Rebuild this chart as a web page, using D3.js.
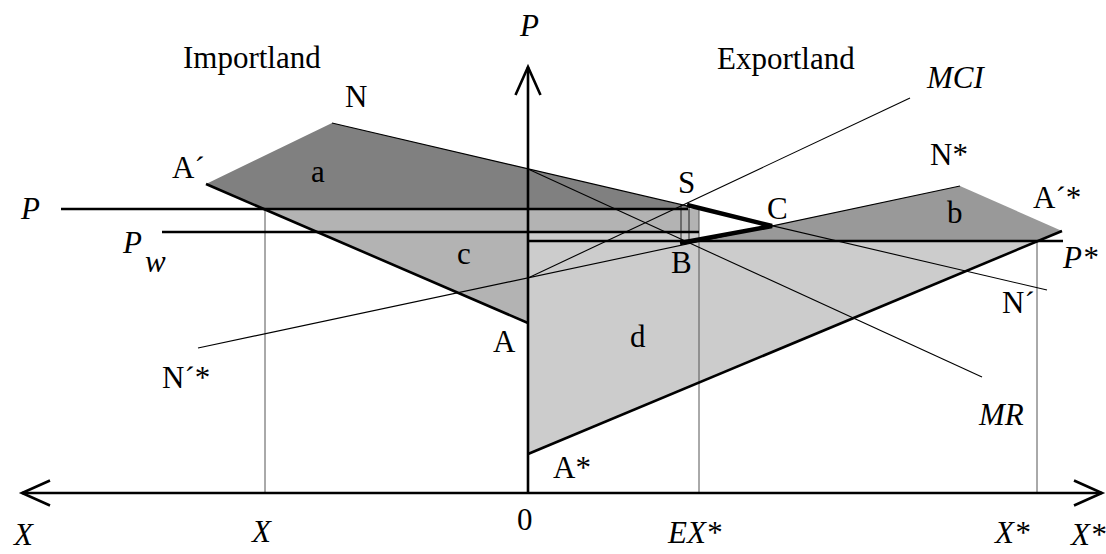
<!DOCTYPE html>
<html>
<head>
<meta charset="utf-8">
<script src="https://cdn.jsdelivr.net/npm/d3@7"></script>
<style>
  body { margin: 0; background: #fff; }
  text { font-family: "Liberation Serif", "Times New Roman", serif; font-size: 31px; fill: #000; }
</style>
</head>
<body>
<svg id="chart"></svg>
<script>
// quantities: negative = Importland (left), positive = Exportland (right)
var priceLevels = [28.4, 26.1, 25.2]            // P, Pw, P*
var priceStart = [-46.7, -36.6, 0]
var priceEnd = [16.0, 17.1, 53.5]
var quantityMarks = [-26.3, 17.1, 50.9]         // X, EX*, X*
var quantityTops = [28.4, 28.4, 25.2]

var supplyImport = [[-32.2, 30.9], [0, 17.0]]   // A' - A
var demandImport = [[-19.6, 37.0], [51.9, 20.3]] // N - N'
var marginalRevenue = [[0, 32.4], [45.4, 11.6]]  // MR
var marginalCost = [[0, 21.5], [38.2, 39.5]]     // MCI
var supplyExport = [[0, 3.9], [53.4, 26.2]]      // A* - A'*
var demandExport = [[-33.0, 14.5], [43.2, 30.7]] // N'* - N*

var pointS = [15.9, 28.8]
var pointC = [24.4, 26.7]
var pointB = [15.2, 25.0]
var sMarks = [15.3, 16.1]

var labels = [
    { t: "Importland", x: -34.5, y: 42.5 },
    { t: "Exportland", x: 18.9, y: 42.4 },
    { t: "P", x: -0.8, y: 45.7, i: true },
    { t: "N", x: -18.3, y: 38.6 },
    { t: "MCI", x: 39.9, y: 40.5, i: true },
    { t: "A\u00B4", x: -35.6, y: 31.5 },
    { t: "a", x: -21.7, y: 31.1 },
    { t: "N*", x: 40.2, y: 32.8 },
    { t: "S", x: 15.0, y: 30.0 },
    { t: "C", x: 23.9, y: 27.4 },
    { t: "b", x: 41.9, y: 27.0 },
    { t: "A\u00B4*", x: 50.5, y: 28.5 },
    { t: "P", x: -50.7, y: 27.4, i: true },
    { t: "P", x: -40.5, y: 24.0, i: true },
    { t: "w", x: -38.3, y: 22.1, i: true },
    { t: "c", x: -7.1, y: 22.9 },
    { t: "B", x: 14.3, y: 22.0 },
    { t: "P*", x: 53.5, y: 22.5, i: true },
    { t: "N\u00B4", x: 47.4, y: 18.0 },
    { t: "d", x: 10.2, y: 14.6 },
    { t: "A", x: -3.5, y: 14.1 },
    { t: "N\u00B4*", x: -36.6, y: 10.5 },
    { t: "MR", x: 45.1, y: 6.8, i: true },
    { t: "A*", x: 2.5, y: 1.5 },
    { t: "0", x: -1.1, y: -3.7 },
    { t: "X", x: -51.4, y: -5.2, i: true },
    { t: "X", x: -27.6, y: -4.9, i: true },
    { t: "EX*", x: 14.0, y: -5.0, i: true },
    { t: "X*", x: 46.7, y: -5.0, i: true },
    { t: "X*", x: 54.3, y: -5.2, i: true }
]

var dimensions = { width: 1106, height: 554 }

var svg = d3.select("#chart")
    .attr("width", dimensions.width)
    .attr("height", dimensions.height)

var xScale = d3.scaleLinear().domain([-50.6, 57.4]).range([22, 1102])
var yScale = d3.scaleLinear().domain([0, 42.6]).range([493, 67])

var line = d3.line().x(d => xScale(d[0])).y(d => yScale(d[1]))

// y of a straight line at x, and x of a straight line at y
function yAt(seg, x) {
    var k = (seg[1][1] - seg[0][1]) / (seg[1][0] - seg[0][0])
    return seg[0][1] + k * (x - seg[0][0])
}
function xAt(seg, y) {
    var k = (seg[1][0] - seg[0][0]) / (seg[1][1] - seg[0][1])
    return seg[0][0] + k * (y - seg[0][1])
}

var P = priceLevels[0], Pw = priceLevels[1], Ps = priceLevels[2]
var xOfP = xAt(supplyImport, P)
var xEx = quantityMarks[1]
var xPs = xAt(supplyExport, Ps)
var xB = xAt(demandExport, Ps)

var areas = [
    // a
    { fill: "#808080", pts: [supplyImport[0], demandImport[0], [priceEnd[0], yAt(demandImport, priceEnd[0])], [priceEnd[0], P], [xOfP, P]] },
    // c
    { fill: "#b3b3b3", pts: [[xOfP, P], [xEx, P], [xEx, Pw], [0, Pw], supplyImport[1]] },
    // d
    { fill: "#cccccc", pts: [[0, Pw], [xEx, Pw], [xEx, Ps], [xPs, Ps], supplyExport[0]] },
    // b
    { fill: "#999999", pts: [[xB, Ps], demandExport[1], supplyExport[1], [xPs, Ps]] }
]

svg.append("g").selectAll("path")
    .data(areas)
    .enter()
    .append("path")
    .attr("d", d => line(d.pts) + "Z")
    .attr("fill", d => d.fill)
    .attr("stroke", "none")

// thin guide lines for quantities
svg.append("g").selectAll("line")
    .data(quantityMarks)
    .enter()
    .append("line")
    .attr("x1", d => xScale(d))
    .attr("x2", d => xScale(d))
    .attr("y1", (d, i) => yScale(quantityTops[i]))
    .attr("y2", yScale(0))
    .attr("stroke", "#555")
    .attr("stroke-width", 1)

svg.append("g").selectAll("line")
    .data(sMarks)
    .enter()
    .append("line")
    .attr("x1", d => xScale(d))
    .attr("x2", d => xScale(d))
    .attr("y1", yScale(pointS[1]))
    .attr("y2", yScale(pointB[1]))
    .attr("stroke", "#222")
    .attr("stroke-width", 1)

// thin curves
var thin = [demandImport, marginalRevenue, marginalCost, demandExport]
svg.append("g").selectAll("path")
    .data(thin)
    .enter()
    .append("path")
    .attr("d", d => line(d))
    .attr("fill", "none")
    .attr("stroke", "#000")
    .attr("stroke-width", 1.1)

// price lines
svg.append("g").selectAll("line")
    .data(priceLevels)
    .enter()
    .append("line")
    .attr("x1", (d, i) => xScale(priceStart[i]))
    .attr("x2", (d, i) => xScale(priceEnd[i]))
    .attr("y1", d => yScale(d))
    .attr("y2", d => yScale(d))
    .attr("stroke", "#000")
    .attr("stroke-width", 2.6)

// supply curves
svg.append("g").selectAll("path")
    .data([supplyImport, supplyExport])
    .enter()
    .append("path")
    .attr("d", d => line(d))
    .attr("fill", "none")
    .attr("stroke", "#000")
    .attr("stroke-width", 2.6)

// S - C - B
svg.append("path")
    .attr("d", line([pointS, pointC, pointB]))
    .attr("fill", "none")
    .attr("stroke", "#000")
    .attr("stroke-width", 4.5)
    .attr("stroke-linejoin", "miter")

// axes with open arrow heads
var xMin = xScale.domain()[0], xMax = xScale.domain()[1], yMax = yScale.domain()[1]
var axisLines = [
    [[xMin, 0], [xMax, 0]],
    [[0, 0], [0, yMax]],
    [[xMin + 2.8, 1.25], [xMin, 0], [xMin + 2.8, -1.25]],
    [[xMax - 2.8, 1.25], [xMax, 0], [xMax - 2.8, -1.25]],
    [[-1.25, yMax - 2.8], [0, yMax], [1.25, yMax - 2.8]]
]
svg.append("g").selectAll("path")
    .data(axisLines)
    .enter()
    .append("path")
    .attr("d", d => line(d))
    .attr("fill", "none")
    .attr("stroke", "#000")
    .attr("stroke-width", 2.6)

svg.append("g").selectAll("text")
    .data(labels)
    .enter()
    .append("text")
    .attr("x", d => xScale(d.x))
    .attr("y", d => yScale(d.y))
    .attr("font-style", d => d.i ? "italic" : "normal")
    .text(d => d.t)
</script>
</body>
</html>
